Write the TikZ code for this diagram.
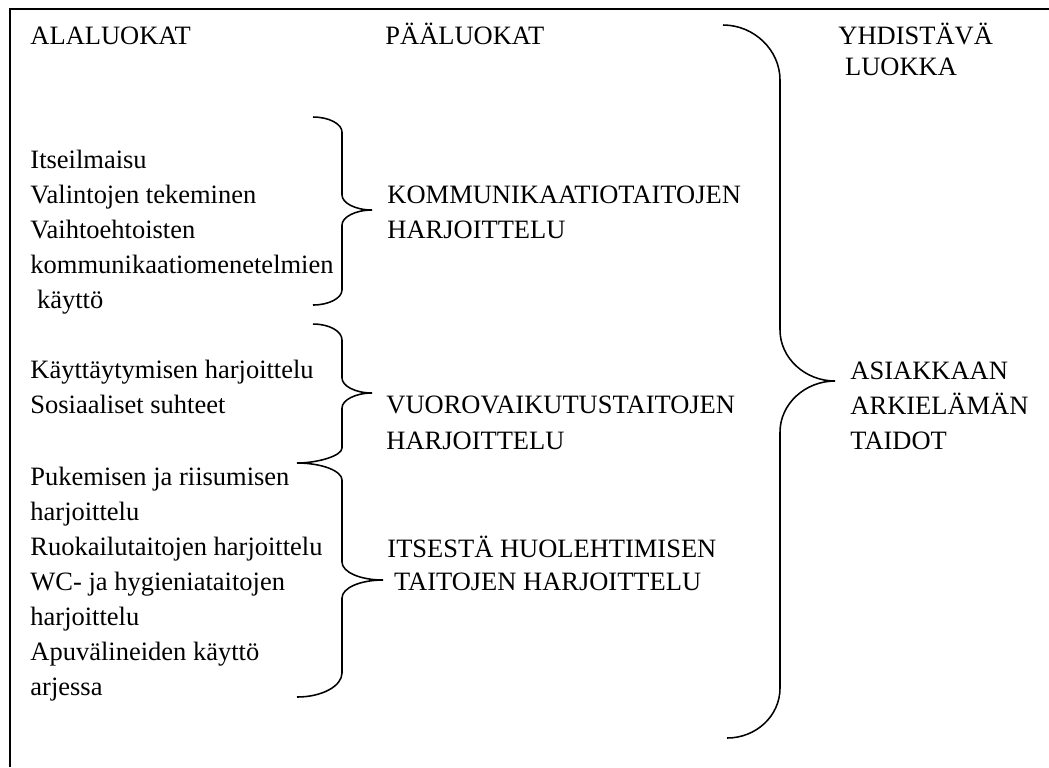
\documentclass[tikz,border=0pt]{standalone}
\usepackage{fontspec}
\setmainfont{Liberation Serif}
\usepackage{tikz}
\tikzstyle{txt}=[inner sep=0pt,anchor=base west,align=left,font=\fontsize{12pt}{15.85pt}\selectfont]
\tikzstyle{brc}=[line width=.7pt]

\begin{document}
\begin{tikzpicture}[x=0.453pt,y=-0.453pt]
	\useasboundingbox (0,0) rectangle (1049,767);
	\draw[line width=.6pt] (1049,9) -- (10,9) -- (10,767);
	% headings (nodes sit on the baseline of their last line)
	\node[txt] (sub)  at (30,44)  {ALALUOKAT};
	\node[txt] (main) at (385,44) {PÄÄLUOKAT};
	\node[txt,font=\fontsize{12pt}{14pt}\selectfont] (top) at (838,75) {YHDISTÄVÄ\\\ LUOKKA};
	% alaluokat
	\node[txt] (g1) at (30,308) {Itseilmaisu\\Valintojen tekeminen\\Vaihtoehtoisten\\kommunikaatiomenetelmien\\\ käyttö};
	\node[txt] (g2) at (30,413) {Käyttäytymisen harjoittelu\\Sosiaaliset suhteet};
	\node[txt] (g3) at (30,695) {Pukemisen ja riisumisen\\harjoittelu\\Ruokailutaitojen harjoittelu\\WC- ja hygieniataitojen\\harjoittelu\\Apuvälineiden käyttö\\arjessa};
	% pääluokat
	\node[txt] (k1) at (387,238) {KOMMUNIKAATIOTAITOJEN\\HARJOITTELU};
	\node[txt,font=\fontsize{12pt}{16.3pt}\selectfont] (k2) at (386,449) {VUOROVAIKUTUSTAITOJEN\\HARJOITTELU};
	\node[txt,font=\fontsize{12pt}{14.9pt}\selectfont] (k3) at (387,590) {ITSESTÄ HUOLEHTIMISEN\\\ TAITOJEN HARJOITTELU};
	% yhdistävä luokka
	\node[txt] (goal) at (850,449) {ASIAKKAAN\\ARKIELÄMÄN\\TAIDOT};
	% braces
	\draw[brc] (313,117) .. controls (329,117) and (342,124) .. (342,132) -- (342,195)
	  .. controls (342,203) and (355.5,210) .. (372,210)
	  .. controls (355.5,210) and (342,217) .. (342,225) -- (342,290)
	  .. controls (342,298) and (329,305) .. (313,305);
	\draw[brc] (313,324) .. controls (329,324) and (342,331) .. (342,340) -- (342,378)
	  .. controls (342,386) and (355.5,393) .. (372,393)
	  .. controls (355.5,393) and (342,400) .. (342,408) -- (342,448)
	  .. controls (342,456) and (317,463) .. (297,463);
	\draw[brc] (297,463) .. controls (322,463) and (342,471) .. (342,480) -- (342,562)
	  .. controls (342,572) and (360,580) .. (383,580)
	  .. controls (360,580) and (342,588) .. (342,598) -- (342,673)
	  .. controls (342,686) and (322,697) .. (297,697);
	\draw[brc] (723,25) .. controls (754,25) and (780,50) .. (780,80) -- (780,330)
	  .. controls (780,358) and (805,381) .. (835,381)
	  .. controls (805,381) and (780,404) .. (780,432) -- (780,688)
	  .. controls (780,716) and (756,738) .. (727,738);
\end{tikzpicture}
\end{document}
